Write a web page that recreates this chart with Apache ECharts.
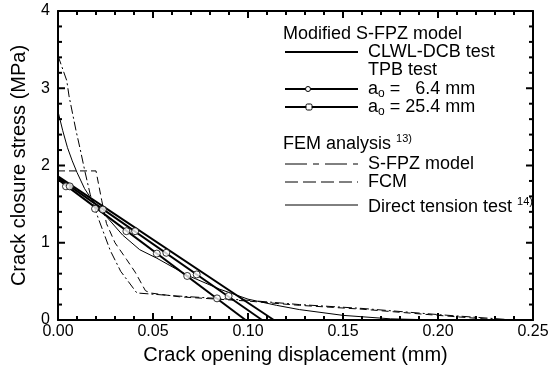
<!DOCTYPE html>
<html>
<head>
<meta charset="utf-8">
<script src="https://cdn.jsdelivr.net/npm/echarts@6/dist/echarts.min.js"></script>
<style>
html, body { margin: 0; padding: 0; background: #fff; }
#chart { width: 554px; height: 370px; }
</style>
</head>
<body>
<div id="chart"></div>
<script>
// axis ranges / ticks
var xMin = 0, xMax = 0.25, xStep = 0.05;
var yMin = 0, yMax = 4, yStep = 1;
var xTicks = [0, 0.01, 0.02, 0.03, 0.04, 0.05, 0.06, 0.07, 0.08, 0.09, 0.10, 0.11, 0.12, 0.13,
  0.14, 0.15, 0.16, 0.17, 0.18, 0.19, 0.20, 0.21, 0.22, 0.23, 0.24, 0.25];
var yTicks = [0, 0.2, 0.4, 0.6, 0.8, 1, 1.2, 1.4, 1.6, 1.8, 2, 2.2, 2.4, 2.6, 2.8, 3, 3.2, 3.4, 3.6, 3.8, 4];

// Modified S-FPZ model
var clwlDcb = [[0, 1.86], [0.1136, 0]];
var tpb64Line = [[0, 1.82], [0.0987, 0]];
var tpb64Marks = [[0.0042, 1.73], [0.0195, 1.44], [0.036, 1.15], [0.052, 0.86], [0.068, 0.57], [0.0837, 0.28]];
var tpb254Line = [[0, 1.84], [0.1074, 0]];
var tpb254Marks = [[0.0062, 1.73], [0.0236, 1.43], [0.0406, 1.15], [0.057, 0.87], [0.073, 0.59], [0.0898, 0.31]];

// FEM analysis
var femSfpz = [[0, 3.42], [0.0046, 3.1], [0.0058, 2.9], [0.0095, 2.45], [0.0116, 2.22], [0.0142, 1.92],
  [0.017, 1.62], [0.021, 1.33], [0.0275, 0.9], [0.033, 0.63], [0.0415, 0.35], [0.06, 0.315],
  [0.10, 0.255], [0.127, 0.20], [0.16, 0.15], [0.20, 0.07], [0.24, 0.0]];
var femFcm = [[0, 1.93], [0.020, 1.93], [0.023, 1.55], [0.0255, 1.25], [0.030, 1.0], [0.0362, 0.78],
  [0.0406, 0.62], [0.046, 0.38], [0.0485, 0.35], [0.064, 0.30], [0.10, 0.245], [0.127, 0.19],
  [0.16, 0.14], [0.20, 0.06], [0.232, 0.0]];
var directTension = [[0, 2.7], [0.0025, 2.45], [0.005, 2.23], [0.0075, 2.06], [0.01, 1.91], [0.014, 1.70],
  [0.018, 1.55], [0.024, 1.38], [0.034, 1.10], [0.043, 0.91], [0.052, 0.80], [0.068, 0.58],
  [0.085, 0.40], [0.10, 0.27], [0.115, 0.19], [0.127, 0.135], [0.15, 0.06], [0.175, 0.015], [0.2, 0.0]];

var font = 'Liberation Sans, Arial, Helvetica, sans-serif';

function line(data, width, dash) {
    return {
        type: 'line', data: data, symbol: 'none', silent: true,
        lineStyle: { color: '#000', width: width, type: dash || 'solid' }
    };
}
function marks(data, symbol) {
    return {
        type: 'scatter', data: data, symbol: symbol, symbolSize: 7, silent: true, z: 5,
        itemStyle: { color: '#fff', borderColor: '#000', borderWidth: 1 }
    };
}

// legend drawn by hand
var lx1 = 285, lx2 = 358, tx = 368;
var rich = {
    b: { fontSize: 18, lineHeight: 22, fontFamily: font },
    sub: { fontSize: 12, lineHeight: 12, verticalAlign: 'bottom', fontFamily: font },
    sup: { fontSize: 11, lineHeight: 10, verticalAlign: 'top', fontFamily: font }
};
function txt(x, y, s) {
    return { type: 'text', x: x, y: y, silent: true,
        style: { text: s, rich: rich, fill: '#000', textVerticalAlign: 'middle', font: '18px ' + font } };
}
function seg(y, w, dash) {
    return { type: 'line', silent: true, shape: { x1: lx1, y1: y, x2: lx2, y2: y },
        style: { stroke: '#000', lineWidth: w, lineDash: dash || null } };
}
var legend = [
    txt(283, 34, '{b|Modified S-FPZ model}'),
    seg(52, 2), txt(tx, 52, '{b|CLWL-DCB test}'),
    txt(tx, 70, '{b|TPB test}'),
    seg(89, 2), { type: 'circle', shape: { cx: 308, cy: 89, r: 2.5 }, style: { fill: '#fff', stroke: '#000' }, z: 10 },
    txt(tx, 89, '{b|a}{sub|o}{b| =   6.4 mm}'),
    seg(107, 2), { type: 'rect', shape: { x: 306, y: 104, width: 6, height: 6, r: 1.5 }, style: { fill: '#fff', stroke: '#000' }, z: 10 },
    txt(tx, 107, '{b|a}{sub|o}{b| = 25.4 mm}'),
    txt(283, 144, '{b|FEM analysis }{sup|13)}'),
    seg(164, 1, [22, 6, 6, 6]), txt(tx, 164, '{b|S-FPZ model}'),
    seg(182, 1, [13, 5]), txt(tx, 182, '{b|FCM}'),
    seg(205, 1), txt(tx, 207, '{b|Direct tension test }{sup|14)}')
];

function axisLine() { return { show: true, onZero: false, lineStyle: { color: '#000', width: 2 } }; }

var chart = echarts.init(document.getElementById('chart'));
chart.setOption({
    animation: false,
    grid: { left: 58, top: 11, right: 21, bottom: 48 },
    xAxis: [{
        type: 'value', min: xMin, max: xMax, interval: xStep,
        name: 'Crack opening displacement (mm)', nameLocation: 'middle', nameGap: 25,
        nameTextStyle: { color: '#000', fontSize: 20, fontFamily: font },
        axisLine: axisLine(), axisTick: { show: false }, splitLine: { show: false },
        axisLabel: { color: '#000', fontSize: 16, fontFamily: font, margin: 4,
            formatter: function (v) { return v.toFixed(2); } }
    }, {
        type: 'value', position: 'top', min: xMin, max: xMax, interval: xStep,
        axisLine: axisLine(), axisTick: { show: false }, splitLine: { show: false },
        axisLabel: { show: false }
    }],
    yAxis: [{
        type: 'value', min: yMin, max: yMax, interval: yStep,
        name: 'Crack closure stress (MPa)', nameLocation: 'middle', nameGap: 29,
        nameTextStyle: { color: '#000', fontSize: 20, fontFamily: font },
        axisLine: axisLine(), axisTick: { show: false }, splitLine: { show: false },
        axisLabel: { color: '#000', fontSize: 16, fontFamily: font, margin: 8 }
    }, {
        type: 'value', position: 'right', min: yMin, max: yMax, interval: yStep,
        axisLine: axisLine(), axisTick: { show: false }, splitLine: { show: false },
        axisLabel: { show: false }
    }],
    series: [
        line(clwlDcb, 2),
        line(tpb64Line, 2),
        line(tpb254Line, 2),
        marks(tpb64Marks, 'circle'),
        marks(tpb254Marks, 'circle'),
        line(femSfpz, 1, [9, 3, 2, 3]),
        line(femFcm, 1, [7, 4]),
        line(directTension, 1)
    ],
    graphic: legend
});

// inside ticks on all four sides, positioned through the axis scales
var ticks = [];
function tk(x1, y1, x2, y2) {
    ticks.push({ type: 'line', silent: true, z: 20, shape: { x1: x1, y1: y1, x2: x2, y2: y2 },
        style: { stroke: '#000', lineWidth: 2 } });
}
xTicks.forEach(function (v) {
    var len = Math.abs(v / xStep - Math.round(v / xStep)) < 1e-6 ? 7 : 4;
    var a = chart.convertToPixel({ xAxisIndex: 0, yAxisIndex: 0 }, [v, yMin]);
    var b = chart.convertToPixel({ xAxisIndex: 0, yAxisIndex: 0 }, [v, yMax]);
    tk(a[0], a[1], a[0], a[1] - len);
    tk(b[0], b[1], b[0], b[1] + len);
});
yTicks.forEach(function (v) {
    var len = Math.abs(v - Math.round(v)) < 1e-6 ? 7 : 4;
    var a = chart.convertToPixel({ xAxisIndex: 0, yAxisIndex: 0 }, [xMin, v]);
    var b = chart.convertToPixel({ xAxisIndex: 0, yAxisIndex: 0 }, [xMax, v]);
    tk(a[0], a[1], a[0] + len, a[1]);
    tk(b[0], b[1], b[0] - len, b[1]);
});
chart.setOption({ graphic: legend.concat(ticks) });
</script>
</body>
</html>
